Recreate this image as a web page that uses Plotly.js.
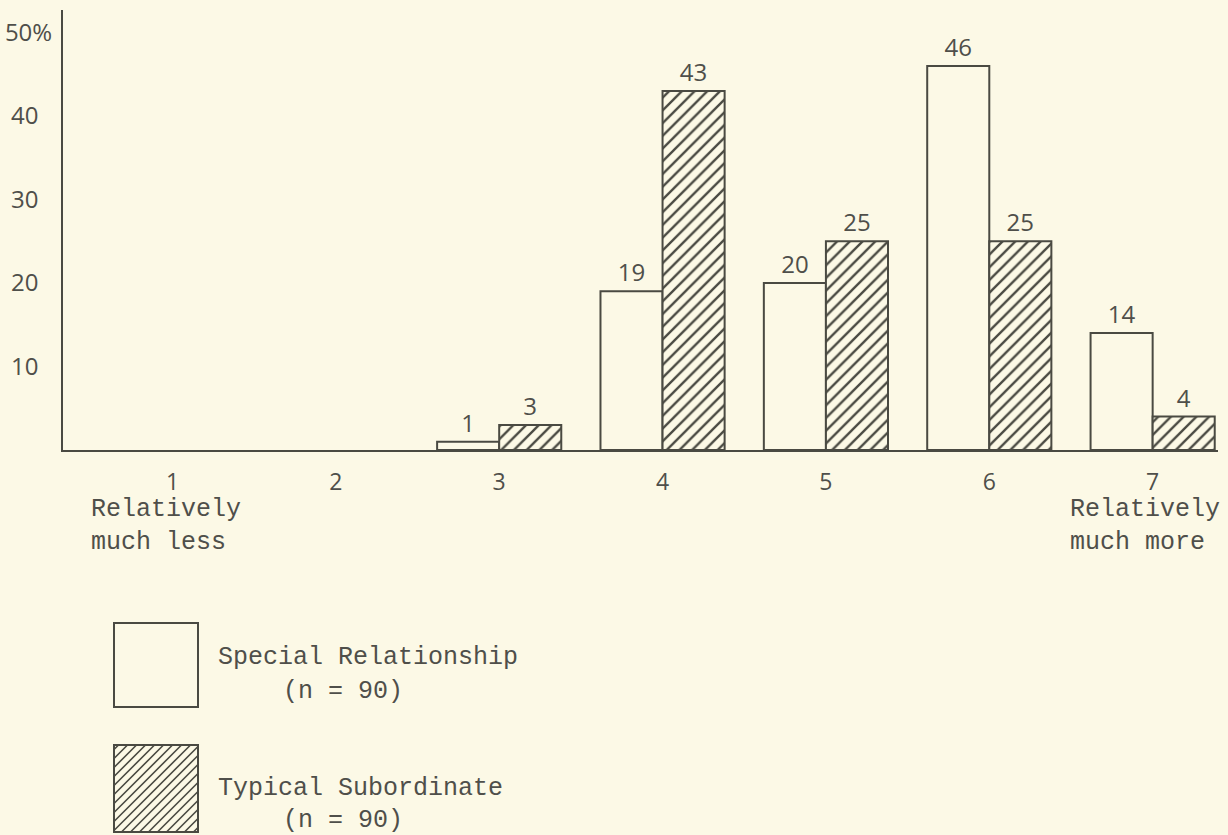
<!DOCTYPE html>
<html>
<head>
<meta charset="utf-8">
<script src="https://cdn.plot.ly/plotly-3.0.1.min.js"></script>
<style>
  html, body { margin: 0; padding: 0; background: #fcf9e6; }
  #chart { width: 1228px; height: 835px; }
</style>
</head>
<body>
<div id="chart"></div>
<script>
// ---- data ----
const categories = [1, 2, 3, 4, 5, 6, 7];
const categoryLabels = ['1', '2', '3', '4', '5', '6', '7'];
const specialRelationship = [0, 0, 1, 19, 20, 46, 14];   // % (n = 90)
const typicalSubordinate  = [0, 0, 3, 43, 25, 25, 4];    // % (n = 90)
const yTickValues = [10, 20, 30, 40, 50];
const yTickLabels = ['10', '20', '30', '40', '50%'];
const seriesNames = ['Special Relationship', 'Typical Subordinate'];
const seriesNotes = ['(n = 90)', '(n = 90)'];
const scaleEnds = ['Relatively<br>much less', 'Relatively<br>much more'];

// ---- style ----
const BG = '#fcf9e6';
const INK = '#4a4a42';
const TXT = '#4f4f4a';
const SANS = 'Open Sans, DejaVu Sans, sans-serif';
const MONO = 'Liberation Mono, DejaVu Sans Mono, monospace';

// plot box in pixels
const W = 1228, H = 835;
const L = 63, R = 1218, T = 10, B = 450;
const px = x => (x - L) / (R - L);
const py = y => (B - y) / (B - T);

const labelOf = v => (v > 0 ? String(v) : '');
const heightOf = v => (v > 0 ? v : null);
// y labels are left-aligned in the original: pad the short ones with a figure space
const padLabel = s => (s.endsWith('%') ? s : s + '\u2007');

const traces = [
  {
    type: 'bar', name: seriesNames[0],
    x: categories, y: specialRelationship.map(heightOf),
    text: specialRelationship.map(labelOf),
    textposition: 'outside', cliponaxis: false,
    textfont: { family: SANS, size: 24, color: TXT },
    marker: { color: BG, line: { color: INK, width: 2 } },
    hoverinfo: 'skip', showlegend: false
  },
  {
    type: 'bar', name: seriesNames[1],
    x: categories, y: typicalSubordinate.map(heightOf),
    text: typicalSubordinate.map(labelOf),
    textposition: 'outside', cliponaxis: false,
    textfont: { family: SANS, size: 24, color: TXT },
    marker: {
      color: BG,
      line: { color: INK, width: 2 },
      pattern: { shape: '/', size: 9, solidity: 0.26, fgcolor: INK, bgcolor: BG, fillmode: 'replace' }
    },
    hoverinfo: 'skip', showlegend: false
  }
];

// legend boxes (decoration) in pixels
const box1 = { x0: 114, x1: 198, y0: 623, y1: 707 };
const box2 = { x0: 114, x1: 198, y0: 745, y1: 832 };

function hatchPath(b, step) {
  const w = b.x1 - b.x0, h = b.y1 - b.y0;
  let d = '';
  for (let c = -h + step / 2; c < w; c += step) {
    const t0 = Math.max(0, -c), t1 = Math.min(h, w - c);
    if (t1 <= t0) continue;
    const xa = b.x0 + c + t0, ya = b.y1 - t0;
    const xb = b.x0 + c + t1, yb = b.y1 - t1;
    d += `M ${px(xa)} ${py(ya)} L ${px(xb)} ${py(yb)} `;
  }
  return d;
}

const shapes = [
  { type: 'rect', xref: 'paper', yref: 'paper', x0: px(box1.x0), x1: px(box1.x1), y0: py(box1.y1), y1: py(box1.y0),
    line: { color: INK, width: 2 }, fillcolor: BG },
  { type: 'path', xref: 'paper', yref: 'paper', path: hatchPath(box2, 9), line: { color: INK, width: 1.6 } },
  { type: 'rect', xref: 'paper', yref: 'paper', x0: px(box2.x0), x1: px(box2.x1), y0: py(box2.y1), y1: py(box2.y0),
    line: { color: INK, width: 2 }, fillcolor: 'rgba(0,0,0,0)' }
];

const monoFont = { family: MONO, size: 25, color: TXT };
const annotations = [
  { xref: 'paper', yref: 'paper', x: px(89), y: py(526), xanchor: 'left', yanchor: 'middle', align: 'left',
    text: scaleEnds[0], showarrow: false, font: monoFont },
  { xref: 'paper', yref: 'paper', x: px(1068), y: py(526), xanchor: 'left', yanchor: 'middle', align: 'left',
    text: scaleEnds[1], showarrow: false, font: monoFont },
  { xref: 'paper', yref: 'paper', x: px(216), y: py(657), xanchor: 'left', yanchor: 'middle',
    text: seriesNames[0], showarrow: false, font: monoFont },
  { xref: 'paper', yref: 'paper', x: px(281), y: py(691), xanchor: 'left', yanchor: 'middle',
    text: seriesNotes[0], showarrow: false, font: monoFont },
  { xref: 'paper', yref: 'paper', x: px(216), y: py(788), xanchor: 'left', yanchor: 'middle',
    text: seriesNames[1], showarrow: false, font: monoFont },
  { xref: 'paper', yref: 'paper', x: px(281), y: py(820), xanchor: 'left', yanchor: 'middle',
    text: seriesNotes[1], showarrow: false, font: monoFont }
];

const layout = {
  width: W, height: H,
  margin: { l: L, r: W - R, t: T, b: H - B, pad: 0 },
  paper_bgcolor: BG, plot_bgcolor: BG,
  barmode: 'group', bargap: 0.24, bargroupgap: 0,
  showlegend: false,
  font: { family: SANS, color: TXT },
  xaxis: {
    range: [0.33, 7.4], tickmode: 'array', tickvals: categories, ticktext: categoryLabels,
    showline: true, linecolor: INK, linewidth: 2, mirror: false,
    ticks: 'outside', ticklen: 10, tickcolor: 'rgba(0,0,0,0)',
    tickfont: { family: SANS, size: 23, color: TXT },
    showgrid: false, zeroline: false, fixedrange: true
  },
  yaxis: {
    range: [0, 52.7], tickmode: 'array', tickvals: yTickValues, ticktext: yTickLabels.map(padLabel),
    showline: true, linecolor: INK, linewidth: 2,
    ticks: 'outside', ticklen: 4, tickcolor: 'rgba(0,0,0,0)',
    tickfont: { family: SANS, size: 24, color: TXT },
    showgrid: false, zeroline: false, fixedrange: true
  },
  shapes: shapes,
  annotations: annotations
};

Plotly.newPlot('chart', traces, layout, { staticPlot: true, displayModeBar: false });
</script>
</body>
</html>
